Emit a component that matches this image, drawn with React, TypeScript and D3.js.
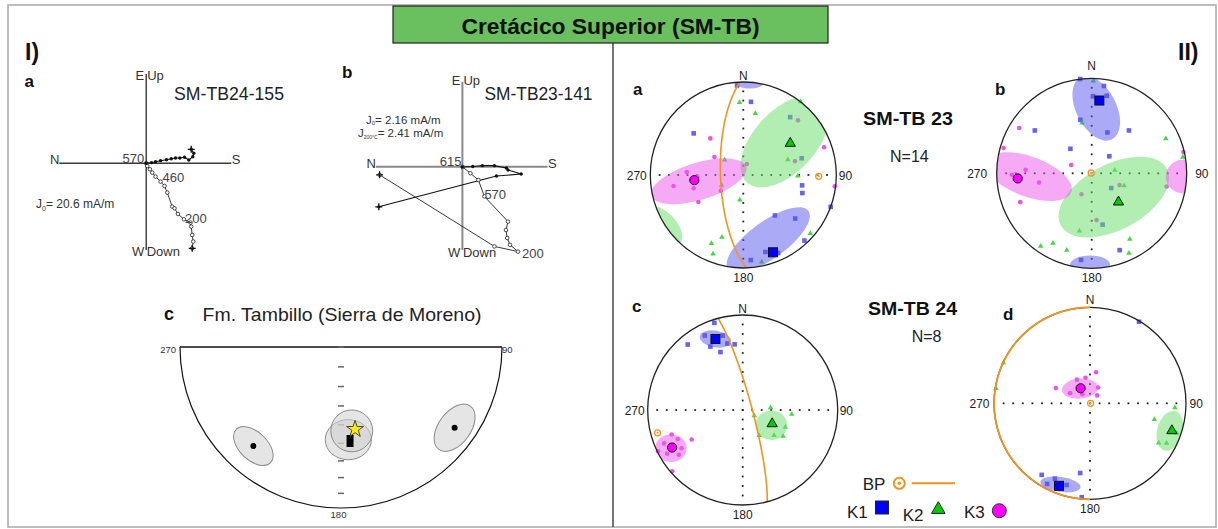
import React from 'react';
import * as d3 from 'd3';

type DI = [number, number];
type Ell = { set: 'k1' | 'k2' | 'k3' | 'g'; dec: number; inc: number; a: number; b: number; rot: number };

const W = 1218, H = 529;
const FONT = "'Liberation Sans', Arial, Helvetica, sans-serif";

// ---------------- Zijderveld a (SM-TB24-155), mA/m ----------------
// horizontal projection: [N-S component (S +), E component (up +)]
const zijA_horizontal: DI[] = [[0, 0], [1.14, 0.13], [2.0, 0.34], [3.08, 0.56], [4.37, 0.77], [5.38, 0.99], [6.3, 1.14], [7.23, 1.14], [8.24, 1.29], [9.16, 0.71], [10.02, 1.42], [10.24, 2.15], [9.68, 3.01]];
// vertical projection: [N-S component (S +), Down component (down +)]
const zijA_vertical: DI[] = [[0, 0], [0.22, 0.58], [0.8, 1.29], [1.29, 2.0], [2.0, 2.86], [3.08, 3.94], [3.94, 4.88], [4.52, 6.3], [5.59, 9.31], [6.09, 9.68], [6.82, 10.9], [8.11, 12.04], [9.53, 12.75], [9.68, 13.61], [9.89, 15.42], [10.11, 16.84], [9.89, 18.28]];
const zijA_steps = [{ t: '570', i: 0, dx: -2, dy: 0, anchor: 'end' }, { t: '460', i: 4, dx: 7, dy: 5, anchor: 'start' }, { t: '200', i: 11, dx: 1, dy: 4, anchor: 'start' }];

// ---------------- Zijderveld b (SM-TB23-141), mA/m ----------------
const zijB_horizontal: DI[] = [[0, 0], [0.26, 0.01], [0.5, 0.03], [0.8, 0.03], [1.1, -0.03], [1.14, -0.08], [1.47, -0.18], [0.85, -0.23], [-2.09, -1.0]];
const zijB_vertical: DI[] = [[0, 0], [0.2, 0.16], [0.4, 0.33], [0.55, 0.74], [1.14, 1.37], [1.09, 1.58], [1.12, 1.78], [1.19, 1.95], [1.39, 2.12], [0.8, 1.99], [-2.07, 0.2]];
const zijB_steps = [{ t: '615', i: 0, dx: -1, dy: -1, anchor: 'end' }, { t: '570', i: 3, dx: 0, dy: 3, anchor: 'start' }, { t: '200', i: 8, dx: 4, dy: 6, anchor: 'start' }];

// ---------------- Fm. Tambillo (Sierra de Moreno) ----------------
const tamb_sites: DI[] = [[221.5, 19], [125.4, 14.5]];
const tamb_ellipses: Ell[] = [
  { set: 'g', dec: 221.5, inc: 19, a: 13.4, b: 7.8, rot: 44 },
  { set: 'g', dec: 125.4, inc: 14.5, a: 15, b: 9, rot: -54 },
  { set: 'g', dec: 175.5, inc: 41.8, a: 12.9, b: 11.2, rot: 0 },
  { set: 'g', dec: 172.7, inc: 46.4, a: 11.7, b: 11.7, rot: 0 },
];
const tamb_mean: DI = [174.5, 41];
const tamb_ref: DI = [170.3, 47];
const tamb_ticks = [90, 80, 70, 60, 50, 40, 30, 20, 10];

// ---------------- AMS stereonet a (SM-TB 23, in situ) ----------------
const netA_K1: DI[] = [[356, 4], [6, 22], [310, 31], [39, 21], [74, 35], [100, 36], [107, 34], [110, 0], [142, 44], [130, 28], [137, 4], [164, 15], [175, 9], [156, 9]];
const netA_K2: DI[] = [[357, 23], [11, 33], [38, 0], [309, 69], [71, 48], [91, 41], [245, 69], [188, 68], [199, 30], [205, 20], [201, 10], [168, 5], [131, 5]];
const netA_K3: DI[] = [[318, 46], [302, 60], [273, 39], [261, 25], [255, 44], [239, 43], [235, 66], [18, 80], [97, 1], [45, 18], [71, 9], [75, 42], [268, 49]];
const netA_means: DI[] = [[159, 12], [56, 39], [264, 46]];
const netA_ellipses: Ell[] = [
  { set: 'k1', dec: 159, inc: 26, a: 48, b: 18, rot: -36 },
  { set: 'k1', dec: 4, inc: 1.5, a: 13, b: 5, rot: 0 },
  { set: 'k2', dec: 51, inc: 42, a: 54, b: 30, rot: -47 },
  { set: 'k2', dec: 237, inc: 0, a: 22, b: 11, rot: 50 },
  { set: 'k3', dec: 262, inc: 50, a: 48, b: 18, rot: -17 },
];
const netA_bp: DI = [91, 20];
const netA_plane: DI = [88, 20];

// ---------------- AMS stereonet b (SM-TB 23, tilt corrected) ----------------
const netB_K1: DI[] = [[353, 0], [8, 8], [1, 20], [11, 18], [348, 42], [21, 52], [41, 40], [307, 26], [319, 62], [46, 69], [127, 69], [168, 44], [160, 15], [187, 9]];
const netB_K2: DI[] = [[349, 45], [65, 15], [82, 70], [111, 60], [192, 38], [209, 17], [215, 7], [198, 16], [150, 21], [155, 8], [1, 3], [80, 3]];
const netB_K3: DI[] = [[302, 11], [286, 4], [292, 71], [273, 31], [269, 17], [260, 43], [248, 20], [77, 1], [100, 21], [206, 70], [113, 64], [174, 49]];
const netB_means: DI[] = [[6, 24], [137, 56], [266, 23]];
const netB_ellipses: Ell[] = [
  { set: 'k1', dec: 4, inc: 32, a: 33, b: 19, rot: 63 },
  { set: 'k1', dec: 181, inc: 4, a: 19, b: 9, rot: 0 },
  { set: 'k2', dec: 137, inc: 62, a: 57, b: 31, rot: -28 },
  { set: 'k3', dec: 267, inc: 34, a: 43, b: 19, rot: 20 },
  { set: 'k3', dec: 92, inc: 3.5, a: 17, b: 16, rot: 0 },
];
const netB_bp: DI = [300, 89.5];

// ---------------- AMS stereonet c (SM-TB 24, in situ) ----------------
const netC_K1: DI[] = [[342, 4], [320, 11], [333, 26], [339, 35], [347, 29], [353, 31], [333, 13], [345, 20]];
const netC_K2: DI[] = [[85, 66], [116, 79], [147, 64], [129, 55], [123, 48], [95, 47], [112, 50]];
const netC_K3: DI[] = [[251, 22], [246, 26], [240, 38], [247, 11], [244, 1], [235, 19], [229, 2], [240, 9], [238, 25]];
const netC_means: DI[] = [[339, 21], [115, 62], [242, 17]];
const netC_ellipses: Ell[] = [
  { set: 'k1', dec: 339, inc: 21, a: 15, b: 8, rot: 10 },
  { set: 'k2', dec: 118, inc: 62, a: 15, b: 14, rot: 0 },
  { set: 'k3', dec: 242, inc: 15.5, a: 15, b: 13, rot: 0 },
];
const netC_bp: DI = [255, 8];
const netC_plane: DI = [255, 8];

// ---------------- AMS stereonet d (SM-TB 24, tilt corrected) ----------------
const netD_K1: DI[] = [[31, 1], [214, 11], [205, 14.5], [188, 27.5], [185, 2], [196, 12.5], [208, 5.5]];
const netD_K2: DI[] = [[295, 0.5], [279, 1], [93, 12.5], [104, 31.5], [120, 18.5], [117.5, 11], [109, 5]];
const netD_K3: DI[] = [[11, 63], [331, 67], [294, 58], [27, 75], [42, 81], [297, 71], [350, 68], [320, 80]];
const netD_means: DI[] = [[200.6, 9], [108.5, 11], [328, 75]];
const netD_ellipses: Ell[] = [
  { set: 'k1', dec: 200, inc: 11, a: 19, b: 7, rot: 8 },
  { set: 'k2', dec: 109, inc: 13, a: 19, b: 12, rot: 105 },
  { set: 'k3', dec: 326, inc: 75, a: 17, b: 9.4, rot: -5 },
];
const netD_bp: DI = [90, 89.5];
const netD_plane: DI = [90, 89.8];

// ---------------- colours ----------------
const C = {
  k1s: '#6464f2', k2s: '#3fdc3f', k3s: '#f04ff0',
  k1e: '#5555ee', k2e: '#66dd66', k3e: '#ee55ee', ge: '#d0d0d0',
  k1m: '#0000ff', k2m: '#00cc00', k3m: '#ff00ff',
  orange: '#f5921f',
};

const RAD = Math.PI / 180;
function projector(cx: number, cy: number, R: number) {
  return (dec: number, inc: number): DI => {
    const r = R * Math.SQRT2 * Math.sin(((90 - inc) / 2) * RAD);
    return [cx + r * Math.sin(dec * RAD), cy - r * Math.cos(dec * RAD)];
  };
}

function greatCircle(pole: DI, proj: (d: number, i: number) => DI) {
  const [pd, pi] = pole;
  const P = pd * RAD, I = pi * RAD;
  const S = [-Math.sin(P), Math.cos(P), 0];
  const D = [-Math.sin(I) * Math.cos(P), -Math.sin(I) * Math.sin(P), Math.cos(I)];
  const pts = d3.range(0, 180.5, 1).map((t) => {
    const tt = t * RAD;
    const v = S.map((s, k) => Math.cos(tt) * s + Math.sin(tt) * D[k]);
    const inc = Math.asin(Math.max(-1, Math.min(1, v[2]))) / RAD;
    const dec = Math.atan2(v[1], v[0]) / RAD;
    return proj(dec, inc);
  });
  return d3.line()(pts as [number, number][]) || '';
}

const triSmall = d3.symbol().type(d3.symbolTriangle).size(13)() || '';
const triMean = d3.symbol().type(d3.symbolTriangle).size(46)() || '';
const triLegend = d3.symbol().type(d3.symbolTriangle).size(80)() || '';
const star = d3.symbol().type(d3.symbolStar).size(88)() || '';

type NetProps = {
  id: string; cx: number; cy: number; R: number; gap: number; nGap: number;
  k1: DI[]; k2: DI[]; k3: DI[]; means: DI[]; ellipses: Ell[]; bp: DI; plane?: DI; planeFull?: boolean;
};

function Stereonet(p: NetProps) {
  const { id, cx, cy, R } = p;
  const proj = projector(cx, cy, R);
  const ticks = d3.range(-9, 10).map((k) => (k * R) / 10);
  const fillOf = (s: string) => (s === 'k1' ? C.k1e : s === 'k2' ? C.k2e : s === 'k3' ? C.k3e : C.ge);
  const sq = 4.6;
  const [m1, m2, m3] = p.means.map((m) => proj(m[0], m[1]));
  const bp = proj(p.bp[0], p.bp[1]);
  return (
    <g>
      <defs>
        <clipPath id={id}>
          <circle cx={cx} cy={cy} r={R} />
        </clipPath>
      </defs>
      <circle cx={cx} cy={cy} r={R} fill="#fff" />
      {ticks.map((t, i) => (
        <g key={'t' + i}>
          <rect x={cx + t - 0.9} y={cy - 0.9} width={1.8} height={1.8} fill="#222" />
          <rect x={cx - 0.9} y={cy + t - 0.9} width={1.8} height={1.8} fill="#222" />
        </g>
      ))}
      {p.k1.map((d, i) => {
        const [x, y] = proj(d[0], d[1]);
        return <rect key={'a' + i} x={x - sq / 2} y={y - sq / 2} width={sq} height={sq} fill={C.k1s} />;
      })}
      {p.k2.map((d, i) => {
        const [x, y] = proj(d[0], d[1]);
        return <path key={'b' + i} d={triSmall} transform={`translate(${x},${y})`} fill={C.k2s} />;
      })}
      {p.k3.map((d, i) => {
        const [x, y] = proj(d[0], d[1]);
        return <circle key={'c' + i} cx={x} cy={y} r={2.3} fill={C.k3s} />;
      })}
      <g clipPath={`url(#${id})`}>
        {p.ellipses.map((e, i) => {
          const [x, y] = proj(e.dec, e.inc);
          return (
            <ellipse key={'e' + i} cx={x} cy={y} rx={(e.a / 90) * R} ry={(e.b / 90) * R}
              transform={`rotate(${e.rot},${x},${y})`} fill={fillOf(e.set)} fillOpacity={0.5} />
          );
        })}
        {p.plane && !p.planeFull && (
          <path d={greatCircle(p.plane, proj)} fill="none" stroke={C.orange} strokeWidth={1.6} />
        )}
      </g>
      <circle cx={cx} cy={cy} r={R} fill="none" stroke="#222" strokeWidth={1.3} />
      {p.plane && p.planeFull && (
        <path d={greatCircle(p.plane, proj)} fill="none" stroke={C.orange} strokeWidth={1.8} />
      )}
      <rect x={m1[0] - 4.5} y={m1[1] - 4.5} width={9} height={9} fill={C.k1m} stroke="#111" strokeWidth={1} />
      <path d={triMean} transform={`translate(${m2[0]},${m2[1]})`} fill={C.k2m} stroke="#111" strokeWidth={1} />
      <circle cx={m3[0]} cy={m3[1]} r={4.6} fill={C.k3m} stroke="#111" strokeWidth={1} />
      <circle cx={bp[0]} cy={bp[1]} r={3} fill="#fff" fillOpacity={0.4} stroke={C.orange} strokeWidth={1.3} />
      <circle cx={bp[0]} cy={bp[1]} r={1} fill={C.orange} />
      <g fontSize={12} fill="#222">
        <text x={cx} y={cy - R - p.nGap} textAnchor="middle">N</text>
        <text x={cx - R - p.gap} y={cy + 5} textAnchor="end">270</text>
        <text x={cx + R + p.gap - 1} y={cy + 5}>90</text>
        <text x={cx} y={cy + R + 14} textAnchor="middle">180</text>
      </g>
    </g>
  );
}

type ZijProps = {
  hor: DI[]; ver: DI[]; xDom: DI; xRange: DI; yDom: DI; yRange: DI;
  steps: { t: string; i: number; dx: number; dy: number; anchor: string }[];
  axisColor: string; axisWidth: number;
  labels: { eUp: number; wDown: number; nY: number };
};

function Zijderveld(p: ZijProps) {
  const x = d3.scaleLinear().domain(p.xDom).range(p.xRange);
  const y = d3.scaleLinear().domain(p.yDom).range(p.yRange);
  const ox = x(0), oy = y(0);
  const hPts = p.hor.map((d) => [x(d[0]), y(-d[1])] as [number, number]);
  const vPts = p.ver.map((d) => [x(d[0]), y(d[1])] as [number, number]);
  const line = d3.line();
  const hEnd = hPts[hPts.length - 1];
  const vEnd = vPts[vPts.length - 1];
  return (
    <g>
      <line x1={p.xRange[0]} y1={oy} x2={p.xRange[1]} y2={oy} stroke={p.axisColor} strokeWidth={p.axisWidth} />
      <line x1={ox} y1={p.yRange[0]} x2={ox} y2={p.yRange[1]} stroke={p.axisColor} strokeWidth={p.axisWidth} />
      <path d={line(vPts) || ''} fill="none" stroke="#222" strokeWidth={0.9} />
      <path d={line(hPts) || ''} fill="none" stroke="#111" strokeWidth={1.1} />
      {vPts.map((d, i) => (
        <circle key={'v' + i} cx={d[0]} cy={d[1]} r={1.8} fill="#fff" stroke="#222" strokeWidth={0.8} />
      ))}
      {hPts.map((d, i) => (
        <circle key={'h' + i} cx={d[0]} cy={d[1]} r={1.7} fill="#111" />
      ))}
      {[hEnd, vEnd].map((d, i) => (
        <path key={'x' + i} d={`M${d[0] - 3.5},${d[1]}H${d[0] + 3.5}M${d[0]},${d[1] - 3.5}V${d[1] + 3.5}`} stroke="#111" strokeWidth={1.3} />
      ))}
      <g fontSize={13} fill="#333">
        <text x={ox - 2} y={p.labels.eUp} textAnchor="end">E</text>
        <text x={ox + 1} y={p.labels.eUp}>Up</text>
        <text x={ox - 2} y={p.labels.wDown} textAnchor="end">W</text>
        <text x={ox + 0.5} y={p.labels.wDown}>Down</text>
        <text x={p.xRange[0]} y={p.labels.nY} textAnchor="end">N</text>
        <text x={p.xRange[1] + 0.5} y={p.labels.nY}>S</text>
      </g>
      <g fontSize={13} fill="#444">
        {p.steps.map((s, i) => {
          const d = vPts[s.i];
          return (
            <text key={'s' + i} x={d[0] + s.dx} y={d[1] + s.dy} textAnchor={s.anchor as any}>{s.t}</text>
          );
        })}
      </g>
    </g>
  );
}

function Tambillo() {
  const cx = 341, cy = 347, R = 161;
  const proj = projector(cx, cy, R);
  const mean = proj(tamb_mean[0], tamb_mean[1]);
  const ref = proj(tamb_ref[0], tamb_ref[1]);
  return (
    <g>
      <path d={`M${cx - R},${cy} A${R},${R} 0 0 0 ${cx + R},${cy}`} fill="#fff" stroke="#111" strokeWidth={1.2} />
      <line x1={cx - R} y1={cy} x2={cx + R} y2={cy} stroke="#111" strokeWidth={1.6} />
      {tamb_ticks.map((t, i) => {
        const [x, y] = proj(180, t);
        return <line key={'k' + i} x1={x - 3} y1={y} x2={x + 3} y2={y} stroke="#666" strokeWidth={1.5} />;
      })}
      {tamb_ellipses.map((e, i) => {
        const [x, y] = proj(e.dec, e.inc);
        return (
          <ellipse key={'e' + i} cx={x} cy={y} rx={(e.a / 90) * R} ry={(e.b / 90) * R}
            transform={`rotate(${e.rot},${x},${y})`} fill="#cfcfcf" fillOpacity={0.55} stroke="#8a8a8a" strokeWidth={1} />
        );
      })}
      {tamb_sites.map((s, i) => {
        const [x, y] = proj(s[0], s[1]);
        return <circle key={'s' + i} cx={x} cy={y} r={3} fill="#000" />;
      })}
      <rect x={mean[0] - 3.5} y={mean[1] - 6} width={7} height={12} fill="#000" />
      <path d={star} transform={`translate(${ref[0]},${ref[1]})`} fill="#ffee00" stroke="#222" strokeWidth={0.8} />
      <g fontSize={9.5} fill="#333">
        <text x={cx - R - 4} y={cy + 6} textAnchor="end">270</text>
        <text x={cx + R} y={cy + 6}>90</text>
        <text x={cx - 2.5} y={cy + R + 10} textAnchor="middle">180</text>
      </g>
    </g>
  );
}

export default function App() {
  const legendTri = triLegend;
  return (
    <svg width={W} height={H} viewBox={`0 0 ${W} ${H}`} fontFamily={FONT}
      style={{ position: 'absolute', left: 0, top: 0, background: '#fff' }}>
      <rect x={0} y={0} width={W} height={H} fill="#fff" />
      <rect x={8} y={5} width={1208} height={522} fill="none" stroke="#a8a8a8" strokeWidth={1.5} />
      <line x1={613} y1={43} x2={613} y2={527} stroke="#444" strokeWidth={1.5} />
      <rect x={393} y={6} width={435} height={37} fill="#6abf5e" stroke="#222" strokeWidth={1.2} />
      <text x={610.5} y={34} textAnchor="middle" fontWeight="bold" fontSize={22} fill="#111"
        textLength={298} lengthAdjust="spacingAndGlyphs">Cretácico Superior (SM-TB)</text>

      {/* ---------- Panel I ---------- */}
      <text x={25} y={60} fontWeight="bold" fontSize={23} fill="#111">I)</text>
      <text x={24.5} y={87} fontWeight="bold" fontSize={17} fill="#111">a</text>
      <text x={342} y={78} fontWeight="bold" fontSize={17} fill="#111">b</text>

      <Zijderveld hor={zijA_horizontal} ver={zijA_vertical}
        xDom={[-18.7, 18.3]} xRange={[59.3, 231.3]} yDom={[-19.2, 18.65]} yRange={[74, 250]}
        steps={zijA_steps} axisColor="#3a3a3a" axisWidth={1.4}
        labels={{ eUp: 80, wDown: 256, nY: 164 }} />
      <text x={174} y={100} fontSize={17.5} fill="#222" textLength={110} lengthAdjust="spacingAndGlyphs">SM-TB24-155</text>
      <text x={36} y={208} fontSize={12} fill="#333">
        <tspan>J</tspan><tspan fontSize={7} dy={2.5}>0</tspan><tspan dy={-2.5}>= 20.6  mA/m</tspan>
      </text>

      <Zijderveld hor={zijB_horizontal} ver={zijB_vertical}
        xDom={[-2.16, 2.13]} xRange={[376, 547.6]} yDom={[-2.13, 2.08]} yRange={[81.7, 250]}
        steps={zijB_steps} axisColor="#8a8a8a" axisWidth={2}
        labels={{ eUp: 85, wDown: 257, nY: 168 }} />
      <text x={484.5} y={100} fontSize={17.5} fill="#222" textLength={108} lengthAdjust="spacingAndGlyphs">SM-TB23-141</text>
      <text x={366} y={123.5} fontSize={11.5} fill="#333">
        <tspan>J</tspan><tspan fontSize={6} dy={1.5}>0</tspan><tspan dy={-1.5}>= 2.16 mA/m</tspan>
      </text>
      <text x={358} y={137} fontSize={11.5} fill="#333">
        <tspan>J</tspan><tspan fontSize={5} dy={1.5}>200°C</tspan><tspan dy={-1.5}>= 2.41 mA/m</tspan>
      </text>

      <text x={164} y={320} fontWeight="bold" fontSize={18} fill="#111">c</text>
      <text x={202.5} y={321} fontSize={18.5} fill="#222" textLength={279} lengthAdjust="spacingAndGlyphs">Fm. Tambillo (Sierra de Moreno)</text>
      <Tambillo />

      {/* ---------- Panel II ---------- */}
      <text x={1178} y={60} fontWeight="bold" fontSize={23} fill="#111">II)</text>
      <text x={633} y={95} fontWeight="bold" fontSize={17} fill="#111">a</text>
      <text x={995} y={95} fontWeight="bold" fontSize={17} fill="#111">b</text>
      <text x={632} y={312} fontWeight="bold" fontSize={17} fill="#111">c</text>
      <text x={1003} y={320} fontWeight="bold" fontSize={17} fill="#111">d</text>

      <Stereonet id="netA" cx={743.3} cy={175} R={93} gap={3.5} nGap={2}
        k1={netA_K1} k2={netA_K2} k3={netA_K3} means={netA_means} ellipses={netA_ellipses}
        bp={netA_bp} plane={netA_plane} />
      <Stereonet id="netB" cx={1091.7} cy={173.3} R={95} gap={9.5} nGap={8}
        k1={netB_K1} k2={netB_K2} k3={netB_K3} means={netB_means} ellipses={netB_ellipses}
        bp={netB_bp} />
      <Stereonet id="netC" cx={742.7} cy={410} R={95} gap={3} nGap={2.5}
        k1={netC_K1} k2={netC_K2} k3={netC_K3} means={netC_means} ellipses={netC_ellipses}
        bp={netC_bp} plane={netC_plane} />
      <Stereonet id="netD" cx={1090} cy={403.3} R={96} gap={4.5} nGap={3}
        k1={netD_K1} k2={netD_K2} k3={netD_K3} means={netD_means} ellipses={netD_ellipses}
        bp={netD_bp} plane={netD_plane} planeFull />

      <text x={863} y={125} fontWeight="bold" fontSize={19} fill="#111" textLength={90} lengthAdjust="spacingAndGlyphs">SM-TB 23</text>
      <text x={890} y={161.7} fontSize={16} fill="#222">N=14</text>
      <text x={868} y={315} fontWeight="bold" fontSize={19} fill="#111" textLength={89} lengthAdjust="spacingAndGlyphs">SM-TB 24</text>
      <text x={911.7} y={341.7} fontSize={16} fill="#222">N=8</text>

      {/* legend */}
      <g fill="#222" fontSize={17}>
        <text x={862.7} y={490}>BP</text>
        <text x={847} y={518}>K1</text>
        <text x={902.7} y={521}>K2</text>
        <text x={964} y={518}>K3</text>
      </g>
      <circle cx={899.3} cy={483.3} r={5.5} fill="#fff" stroke={C.orange} strokeWidth={2} />
      <circle cx={899.3} cy={483.3} r={1.8} fill={C.orange} />
      <line x1={911.7} y1={483.3} x2={955} y2={483.3} stroke={C.orange} strokeWidth={2} />
      <rect x={875.5} y={501} width={13} height={13} fill={C.k1m} stroke="#222" strokeWidth={1} />
      <path d={legendTri} transform="translate(938.3,509.5)" fill={C.k2m} stroke="#222" strokeWidth={1} />
      <circle cx={999.3} cy={510.7} r={7} fill={C.k3m} stroke="#333" strokeWidth={1} />
    </svg>
  );
}
